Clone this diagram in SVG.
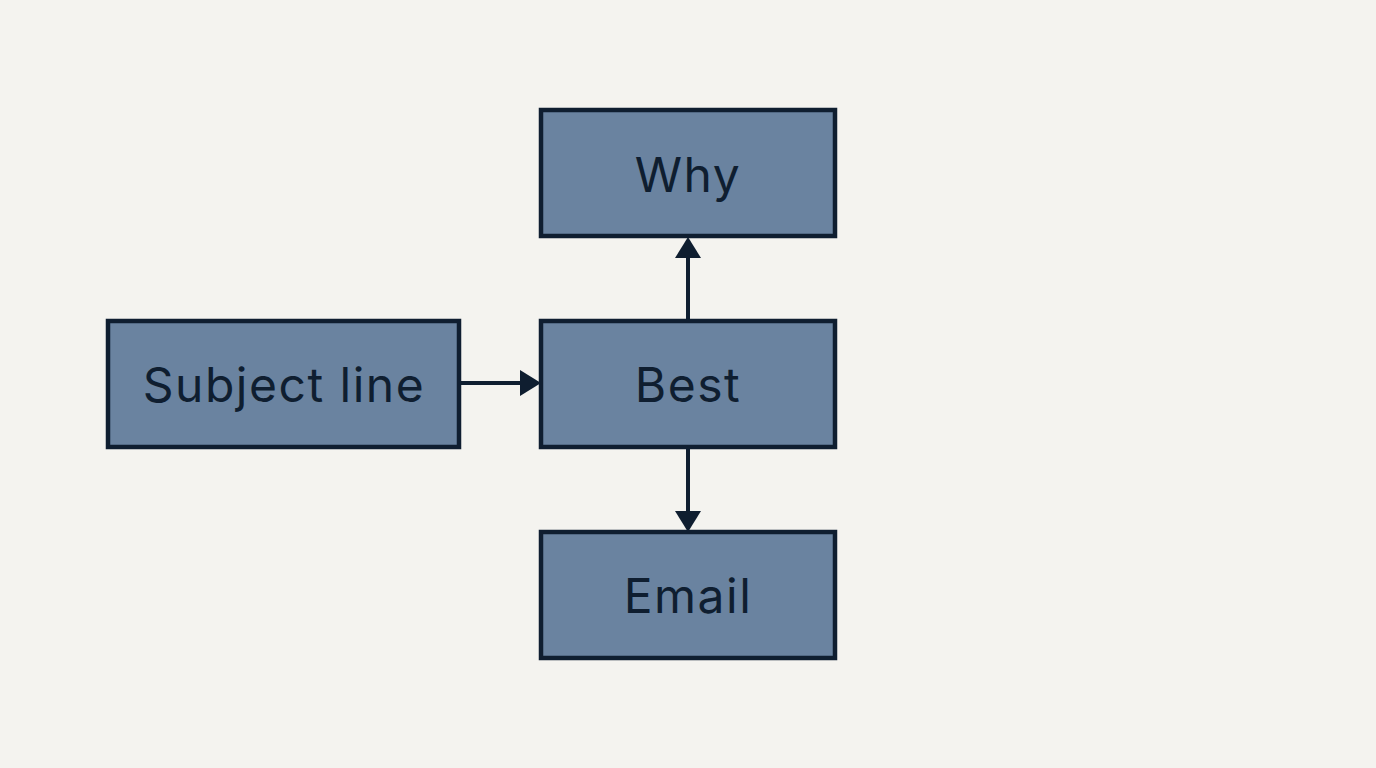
<svg xmlns="http://www.w3.org/2000/svg" width="1376" height="768" viewBox="0 0 1376 768">
<style>
.n{fill:#6a83a0;stroke:#0f1e30;stroke-width:4.5}
.t{font-family:Inter,"Liberation Sans",sans-serif;font-size:48px;letter-spacing:1.5px;fill:#0f1e30;text-anchor:middle;dominant-baseline:central}
.c{stroke:#0f1e30;stroke-width:4;fill:none}
.h{fill:#0f1e30}
</style>
<rect width="1376" height="768" fill="#f4f3ef"/>
<g id="connectors">
<path class="c" d="M460,383H522"/>
<polygon class="h" points="520,370 541,383 520,396"/>
<path class="c" d="M688,320V258"/>
<polygon class="h" points="675,258 688,237 701,258"/>
<path class="c" d="M688,448V512"/>
<polygon class="h" points="675,511 688,532 701,511"/>
</g>
<g id="why"><rect class="n" x="541" y="110" width="294" height="126"/><text class="t" x="688" y="174">Why</text></g>
<g id="subject"><rect class="n" x="108" y="321" width="351" height="126"/><text class="t" x="284" y="384">Subject line</text></g>
<g id="best"><rect class="n" x="541" y="321" width="294" height="126"/><text class="t" x="688" y="384">Best</text></g>
<g id="email"><rect class="n" x="541" y="532" width="294" height="126"/><text class="t" x="688" y="595">Email</text></g>
</svg>
